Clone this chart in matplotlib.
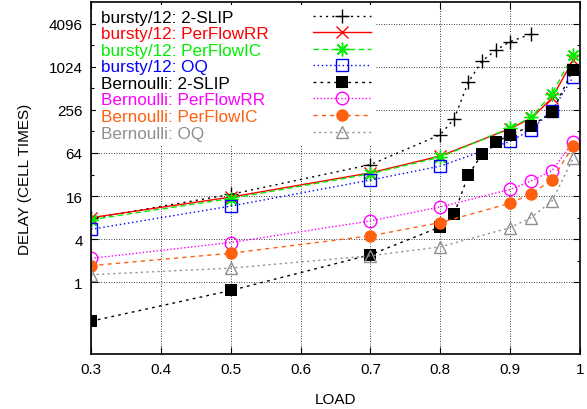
import matplotlib
matplotlib.use("Agg")
import matplotlib.pyplot as plt
from matplotlib.ticker import FixedLocator, NullLocator, FixedFormatter, NullFormatter

plt.rcParams['font.family'] = ['Liberation Sans', 'DejaVu Sans']

# ---- data ----
load_main = [0.3, 0.5, 0.7, 0.8, 0.9, 0.93, 0.96, 0.99]
load_slip_bursty = [0.3, 0.5, 0.7, 0.8, 0.82, 0.84, 0.86, 0.88, 0.9, 0.93]
load_slip_bern = [0.3, 0.5, 0.7, 0.8, 0.82, 0.84, 0.86, 0.88, 0.9, 0.93, 0.96, 0.99]

bursty_slip = [7.8, 16.9, 44, 115, 193, 623, 1233, 1757, 2295, 2930]
bursty_rr = [8.0, 15.5, 33.8, 58, 140, 195, 374, 1272]
bursty_ic = [7.5, 14.8, 32.8, 56, 143, 201, 428, 1496]
bursty_oq = [5.5, 11.6, 26.8, 42, 93, 135, 249, 732]
bern_slip = [0.287, 0.77, 2.43, 5.95, 9.1, 31.4, 62, 91, 115, 151, 239, 924]
bern_rr = [2.16, 3.6, 7.2, 11.3, 19.8, 26, 36.4, 91]
bern_ic = [1.71, 2.55, 4.46, 6.83, 12.7, 17.3, 26.8, 79.5]
bern_oq = [1.28, 1.58, 2.35, 3.13, 5.8, 8, 13.7, 53.6]

labels = ["bursty/12: 2-SLIP", "bursty/12: PerFlowRR", "bursty/12: PerFlowIC",
          "bursty/12: OQ", "Bernoulli: 2-SLIP", "Bernoulli: PerFlowRR",
          "Bernoulli: PerFlowIC", "Bernoulli: OQ"]

x_ticks = [0.3, 0.4, 0.5, 0.6, 0.7, 0.8, 0.9, 1.0]
x_ticklabels = ["0.3", "0.4", "0.5", "0.6", "0.7", "0.8", "0.9", "1"]
y_ticks = [1, 4, 16, 64, 256, 1024, 4096]
y_ticklabels = ["1", "4", "16", "64", "256", "1024", "4096"]
y_minor = [2, 8, 32, 128, 512, 2048]

fig = plt.figure(figsize=(5.87, 4.10), dpi=100)
ax = fig.add_axes([91/587, 1-355/410, (580-91)/587, (355-3)/410])

series = [
    (load_slip_bursty, bursty_slip, dict(color='black', ls=(0, (1.5, 3)), marker='+', ms=10, mew=1.0, mfc='none')),
    (load_main, bursty_rr, dict(color='#ff0000', ls='-', marker='x', ms=8, mew=1.0)),
    (load_main, bursty_ic, dict(color='#00ee00', ls=(0, (4, 2.5)), marker=(8, 2, 0), ms=10, mew=1.0)),
    (load_main, bursty_oq, dict(color='#0000ff', ls=(0, (1, 2)), marker='s', ms=8, mew=1.0, mfc='none')),
    (load_slip_bern, bern_slip, dict(color='black', ls=(0, (2, 3)), marker='s', ms=8, mew=0, mfc='black')),
    (load_main, bern_rr, dict(color='#ff00ff', ls=(0, (1, 1.5)), marker='o', ms=9, mew=1.0, mfc='none')),
    (load_main, bern_ic, dict(color='#ff6010', ls=(0, (3, 3)), marker='o', ms=9, mew=0, mfc='#ff6010')),
    (load_main, bern_oq, dict(color='#909090', ls=(0, (1.5, 2.5)), marker='^', ms=8, mew=1.0, mfc='none')),
]

for (xs, ys, st), lab in zip(series, labels):
    ax.plot(xs, ys, lw=1.0, label=lab, **st)

ax.set_yscale('log', base=2)
ax.set_xlim(0.3, 1.0)
ax.set_ylim(0.1, 8192)

ax.xaxis.set_major_locator(FixedLocator(x_ticks))
ax.xaxis.set_major_formatter(FixedFormatter(x_ticklabels))
ax.xaxis.set_minor_locator(NullLocator())
ax.yaxis.set_major_locator(FixedLocator(y_ticks))
ax.yaxis.set_major_formatter(FixedFormatter(y_ticklabels))
ax.yaxis.set_minor_locator(FixedLocator(y_minor))
ax.yaxis.set_minor_formatter(NullFormatter())

ax.tick_params(which='both', direction='in', top=True, right=True, labelsize=11, colors='black')
ax.tick_params(which='major', length=5, width=0.8, pad=6)
ax.tick_params(which='minor', length=2.5, width=0.8)
for s in ax.spines.values():
    s.set_linewidth(1.2)

ax.grid(True, which='major', color='black', ls=(0, (1, 2)), lw=0.6)
ax.set_axisbelow(True)

ax.set_xlabel("LOAD", fontsize=11, labelpad=11)
ax.set_ylabel("DELAY (CELL TIMES)", fontsize=11, labelpad=12)

fs = 12.3
htp = 2.6
leg = ax.legend(loc='upper left', bbox_to_anchor=(0.008, 0.995), markerfirst=False,
                labelcolor='linecolor', fontsize=fs, frameon=True, fancybox=False,
                framealpha=1.0, edgecolor='none', facecolor='white',
                handlelength=3.4, handletextpad=htp, labelspacing=0.09,
                borderpad=0.3, borderaxespad=0.05, numpoints=1)
leg.set_zorder(5)

# left-align the legend texts (gnuplot style: text left, sample right)
fig.canvas.draw()
renderer = fig.canvas.get_renderer()
texts = leg.get_texts()
widths = [t.get_window_extent(renderer).width for t in texts]
maxw = max(widths)
px2pt = 72.0 / fig.dpi
i = 0
for col in leg._legend_handle_box.get_children():
    col.align = 'left'
    for row in col.get_children():
        row.sep = htp * fs + (maxw - widths[i]) * px2pt
        i += 1

fig.savefig("out.png", dpi=100)
